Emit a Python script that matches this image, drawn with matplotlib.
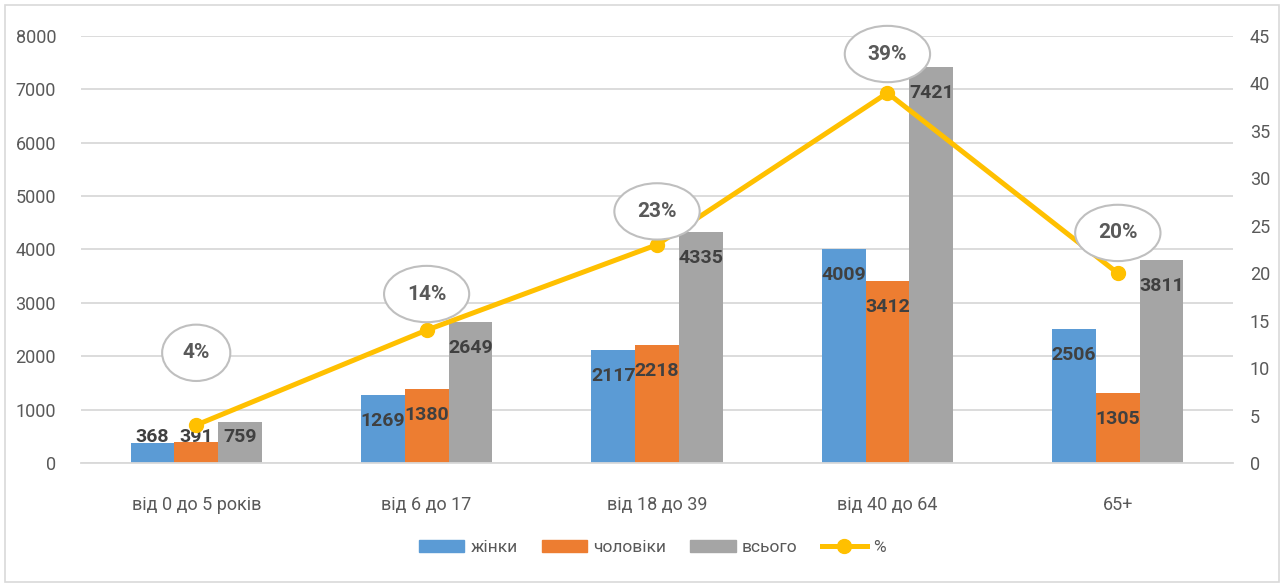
import matplotlib.pyplot as plt
from matplotlib.patches import Rectangle
from matplotlib.lines import Line2D
import numpy as np

plt.rcParams["font.family"] = ["Roboto", "DejaVu Sans"]

categories = ["від 0 до 5 років", "від 6 до 17", "від 18 до 39", "від 40 до 64", "65+"]
women = [368, 1269, 2117, 4009, 2506]
men = [391, 1380, 2218, 3412, 1305]
total = [759, 2649, 4335, 7421, 3811]
percent = [4, 14, 23, 39, 20]

# vertical offset of the ellipse labels above the points (in points)
pct_offsets = [52, 26, 24, 28, 29]

blue = "#5B9BD5"
orange = "#ED7D31"
gray = "#A5A5A5"
yellow = "#FFC000"
text_gray = "#595959"
label_dark = "#404040"
grid_col = "#D9D9D9"

fig = plt.figure(figsize=(12.84, 5.84), dpi=100)
fig.patches.append(Rectangle((0.004, 0.004), 0.992, 0.988, transform=fig.transFigure,
                             fill=False, ec="#D9D9D9", lw=1.2))
ax = fig.add_axes([0.0631, 0.2072, 0.8972, 0.7312])
ax2 = ax.twinx()

x = np.arange(len(categories))
w = 0.19
series = [(women, blue, "жінки", -w), (men, orange, "чоловіки", 0), (total, gray, "всього", w)]
for vals, col, name, off in series:
    ax.bar(x + off, vals, width=w, color=col, zorder=2)
    for xi, v in zip(x, vals):
        ax.text(xi + off, max(v - 490, 490), str(v), ha="center", va="center",
                fontsize=14, fontweight="bold", color=label_dark, zorder=5)

ax.set_xlim(-0.5, len(categories) - 0.5)
ax.set_ylim(0, 8000)
ax.set_yticks(np.arange(0, 8001, 1000))
ax.yaxis.grid(True, color=grid_col, lw=1.3, zorder=0)
ax.set_axisbelow(True)
ax.set_xticks(x)
ax.set_xticklabels(categories)
ax.tick_params(axis="both", length=0, labelsize=13, colors=text_gray)
ax.tick_params(axis="x", pad=24)
ax.tick_params(axis="y", pad=18)
for s in ["top", "right", "left"]:
    ax.spines[s].set_visible(False)
ax.spines["bottom"].set_color(grid_col)
ax.spines["bottom"].set_linewidth(1.3)

ax2.plot(x, percent, color=yellow, lw=3.6, marker="o", markersize=10, zorder=4)
ax2.set_ylim(0, 45)
ax2.set_yticks(np.arange(0, 46, 5))
ax2.tick_params(axis="y", length=0, labelsize=13, colors=text_gray, pad=12)
for s in ax2.spines.values():
    s.set_visible(False)
for xi, p, off in zip(x, percent, pct_offsets):
    ax2.annotate(f"{p}%", (xi, p), xytext=(0, off), textcoords="offset points",
                 ha="center", va="center", fontsize=15, fontweight="bold", color=text_gray,
                 bbox=dict(boxstyle="ellipse,pad=0.5", fc="white", ec="#BFBFBF", lw=1.5),
                 zorder=6)

handles = [Rectangle((0, 0), 1, 1, color=blue), Rectangle((0, 0), 1, 1, color=orange),
           Rectangle((0, 0), 1, 1, color=gray),
           Line2D([], [], color=yellow, lw=3.6, marker="o", markersize=10)]
fig.legend(handles, ["жінки", "чоловіки", "всього", "%"], loc="center",
           bbox_to_anchor=(0.508, 0.062), ncol=4, frameon=False, fontsize=12.5,
           labelcolor=text_gray, handlelength=2.6, handleheight=0.7,
           columnspacing=1.4, handletextpad=0.35)

fig.savefig("out.png", dpi=100)
